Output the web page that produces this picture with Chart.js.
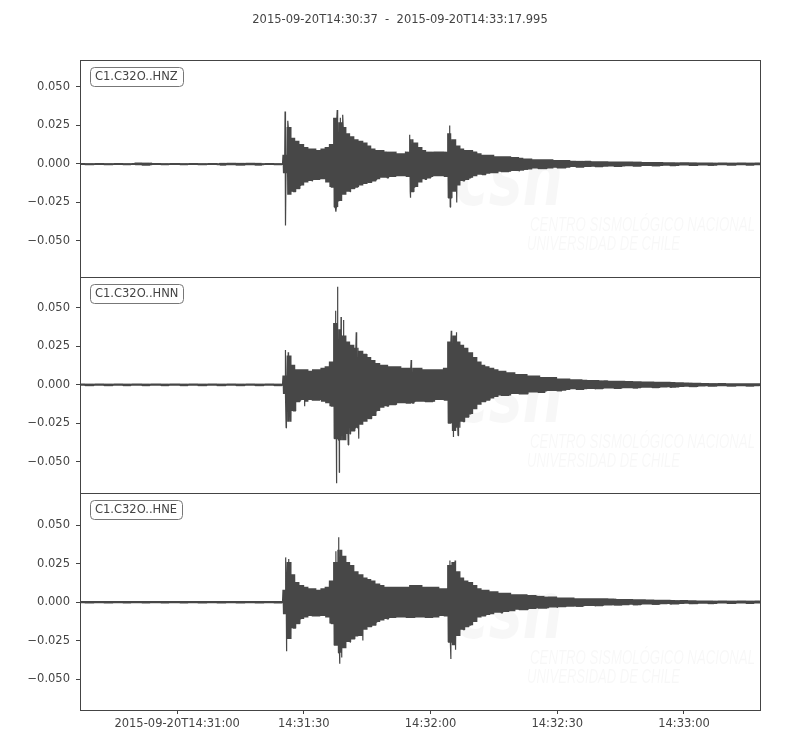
<!DOCTYPE html>
<html><head><meta charset="utf-8">
<script src="https://cdn.jsdelivr.net/npm/chart.js@4.4.1/dist/chart.umd.min.js"></script>
<style>
html,body{margin:0;padding:0;background:#fff;}
#wrap{position:relative;width:800px;height:750px;overflow:hidden;}
canvas{position:absolute;left:0;}
</style></head><body>
<div id="wrap">
<canvas id="c1" width="800" height="287" style="top:0px"></canvas>
<canvas id="c2" width="800" height="236" style="top:267px"></canvas>
<canvas id="c3" width="800" height="267" style="top:483px"></canvas>
</div>
<script>
// ---------- text / axes ----------
const titleText = '2015-09-20T14:30:37  -  2015-09-20T14:33:17.995';
const channelNames = ['C1.C32O..HNZ', 'C1.C32O..HNN', 'C1.C32O..HNE'];
const traceSeconds = 160.995;                 // trace length, seconds from 14:30:37
const xTickSeconds = [23, 53, 83, 113, 143];  // seconds from 14:30:37
const xTickLabels = ['2015-09-20T14:31:00', '14:31:30', '14:32:00', '14:32:30', '14:33:00'];
const yTickValues = [-0.05, -0.025, 0, 0.025, 0.05];
const yTickLabels = ['\u22120.050', '\u22120.025', '0.000', '0.025', '0.050'];
const yLimits = [[-0.0734, 0.0675], [-0.0703, 0.0699], [-0.0701, 0.0708]];

// ---------- amplitude envelopes, one value per 1-s bin (t = 0..160 s) ----------
const hnzUpper = [
 0.0005,0.0005,0.0005,0.0005,0.0005,0.0005,0.0005,0.0005,0.0005,0.0005,
 0.0005,0.0005,0.0005,0.0008,0.0008,0.0008,0.0008,0.0005,0.0005,0.0005,
 0.0005,0.0005,0.0005,0.0005,0.0005,0.0005,0.0005,0.0005,0.0005,0.0005,
 0.0005,0.0005,0.0005,0.0007,0.0007,0.0007,0.0007,0.0007,0.0007,0.0007,
 0.0007,0.0007,0.0007,0.0005,0.0005,0.0005,0.0005,0.0005,0.006,0.024,
 0.017,0.015,0.013,0.011,0.010,0.010,0.009,0.010,0.011,0.013,
 0.030,0.027,0.024,0.020,0.018,0.016,0.015,0.014,0.012,0.010,
 0.009,0.009,0.008,0.008,0.008,0.007,0.007,0.008,0.016,0.014,
 0.011,0.009,0.008,0.008,0.008,0.008,0.008,0.020,0.016,0.012,
 0.010,0.009,0.009,0.008,0.007,0.006,0.006,0.006,0.005,0.005,
 0.005,0.005,0.0045,0.0045,0.004,0.0035,0.0035,0.003,0.003,0.003,
 0.003,0.003,0.0025,0.0025,0.0025,0.0025,0.002,0.002,0.002,0.002,
 0.002,0.0018,0.0018,0.0018,0.0018,0.0016,0.0016,0.0016,0.0016,0.0015,
 0.0015,0.0015,0.0015,0.0012,0.0012,0.0012,0.0012,0.0012,0.0011,0.0011,
 0.0011,0.001,0.001,0.001,0.001,0.001,0.0009,0.0009,0.0009,0.0009,
 0.0008,0.0008,0.0008,0.0008,0.0008,0.0008,0.0008,0.0008,0.0008,0.0008,
 0.0008
];
const hnzLower = [
 -0.0005,-0.0005,-0.0005,-0.0005,-0.0005,-0.0005,-0.0005,-0.0005,-0.0005,-0.0005,
 -0.0005,-0.0005,-0.0005,-0.0008,-0.0008,-0.0008,-0.0008,-0.0005,-0.0005,-0.0005,
 -0.0005,-0.0005,-0.0005,-0.0005,-0.0005,-0.0005,-0.0005,-0.0005,-0.0005,-0.0005,
 -0.0005,-0.0005,-0.0005,-0.0007,-0.0007,-0.0007,-0.0007,-0.0007,-0.0007,-0.0007,
 -0.0007,-0.0007,-0.0007,-0.0005,-0.0005,-0.0005,-0.0005,-0.0005,-0.006,-0.020,
 -0.018,-0.016,-0.014,-0.012,-0.011,-0.010,-0.010,-0.010,-0.012,-0.015,
 -0.028,-0.024,-0.020,-0.018,-0.016,-0.015,-0.014,-0.013,-0.012,-0.011,
 -0.010,-0.009,-0.009,-0.008,-0.008,-0.008,-0.008,-0.008,-0.018,-0.015,
 -0.012,-0.010,-0.009,-0.008,-0.008,-0.008,-0.008,-0.022,-0.018,-0.014,
 -0.011,-0.010,-0.009,-0.008,-0.007,-0.007,-0.006,-0.006,-0.006,-0.005,
 -0.005,-0.005,-0.0045,-0.0045,-0.004,-0.0035,-0.0035,-0.003,-0.003,-0.003,
 -0.003,-0.003,-0.0025,-0.0025,-0.0025,-0.0025,-0.002,-0.002,-0.002,-0.002,
 -0.002,-0.0018,-0.0018,-0.0018,-0.0018,-0.0016,-0.0016,-0.0016,-0.0016,-0.0015,
 -0.0015,-0.0015,-0.0015,-0.0012,-0.0012,-0.0012,-0.0012,-0.0012,-0.0011,-0.0011,
 -0.0011,-0.001,-0.001,-0.001,-0.001,-0.001,-0.0009,-0.0009,-0.0009,-0.0009,
 -0.0008,-0.0008,-0.0008,-0.0008,-0.0008,-0.0008,-0.0008,-0.0008,-0.0008,-0.0008,
 -0.0008
];
const hnzSpikes = [[48.55,0.034],[48.7,-0.040],[49.2,0.028],[60.6,-0.031],[60.9,0.035],
 [61.6,0.030],[62.2,0.032],[78.05,0.019],[78.2,-0.022],[87.5,0.025],[87.65,-0.028],[89.2,-0.025]];

const hnnUpper = [
 0.0006,0.0006,0.0006,0.0006,0.0006,0.0006,0.0006,0.0006,0.0006,0.0006,
 0.0006,0.0006,0.0006,0.0006,0.0006,0.0006,0.0006,0.0006,0.0006,0.0006,
 0.0006,0.0006,0.0006,0.0006,0.0006,0.0006,0.0006,0.0006,0.0006,0.0006,
 0.0006,0.0006,0.0006,0.0006,0.0006,0.0006,0.0006,0.0006,0.0006,0.0006,
 0.0006,0.0006,0.0006,0.0006,0.0006,0.0006,0.0006,0.0006,0.006,0.019,
 0.013,0.010,0.010,0.010,0.009,0.010,0.010,0.011,0.012,0.015,
 0.040,0.036,0.032,0.028,0.026,0.024,0.022,0.020,0.018,0.016,
 0.014,0.013,0.013,0.012,0.012,0.012,0.011,0.011,0.011,0.011,
 0.011,0.010,0.010,0.010,0.010,0.010,0.011,0.028,0.032,0.028,
 0.026,0.024,0.021,0.018,0.015,0.013,0.012,0.011,0.010,0.009,
 0.009,0.008,0.008,0.007,0.007,0.007,0.006,0.006,0.006,0.005,
 0.005,0.005,0.005,0.004,0.004,0.004,0.0035,0.0035,0.0035,0.0032,
 0.003,0.003,0.003,0.0028,0.0028,0.0026,0.0026,0.0025,0.0025,0.0024,
 0.0024,0.0022,0.0022,0.002,0.002,0.002,0.0019,0.0019,0.0018,0.0018,
 0.0017,0.0016,0.0015,0.0014,0.0013,0.0012,0.0012,0.0011,0.0011,0.001,
 0.001,0.001,0.001,0.0009,0.0009,0.0009,0.0009,0.0009,0.0009,0.0009,
 0.0009
];
const hnnLower = [
 -0.0006,-0.0006,-0.0006,-0.0006,-0.0006,-0.0006,-0.0006,-0.0006,-0.0006,-0.0006,
 -0.0006,-0.0006,-0.0006,-0.0006,-0.0006,-0.0006,-0.0006,-0.0006,-0.0006,-0.0006,
 -0.0006,-0.0006,-0.0006,-0.0006,-0.0006,-0.0006,-0.0006,-0.0006,-0.0006,-0.0006,
 -0.0006,-0.0006,-0.0006,-0.0006,-0.0006,-0.0006,-0.0006,-0.0006,-0.0006,-0.0006,
 -0.0006,-0.0006,-0.0006,-0.0006,-0.0006,-0.0006,-0.0006,-0.0006,-0.006,-0.024,
 -0.017,-0.011,-0.010,-0.011,-0.010,-0.010,-0.010,-0.011,-0.012,-0.014,
 -0.035,-0.036,-0.036,-0.032,-0.030,-0.028,-0.026,-0.024,-0.022,-0.020,
 -0.017,-0.015,-0.014,-0.013,-0.013,-0.012,-0.012,-0.012,-0.012,-0.011,
 -0.011,-0.011,-0.011,-0.011,-0.010,-0.010,-0.010,-0.025,-0.030,-0.028,
 -0.024,-0.021,-0.019,-0.016,-0.013,-0.011,-0.010,-0.009,-0.008,-0.007,
 -0.007,-0.007,-0.006,-0.006,-0.006,-0.006,-0.005,-0.005,-0.005,-0.005,
 -0.004,-0.004,-0.004,-0.004,-0.0035,-0.0035,-0.003,-0.003,-0.003,-0.003,
 -0.0028,-0.0028,-0.0026,-0.0026,-0.0025,-0.0025,-0.0024,-0.0024,-0.0023,-0.0023,
 -0.0022,-0.0022,-0.002,-0.002,-0.002,-0.0019,-0.0019,-0.0018,-0.0018,-0.0017,
 -0.0016,-0.0015,-0.0014,-0.0013,-0.0012,-0.0012,-0.0011,-0.0011,-0.001,-0.001,
 -0.0009,-0.0009,-0.0009,-0.0009,-0.0009,-0.0009,-0.0009,-0.0009,-0.0009,-0.0009,
 -0.0009
];
const hnnSpikes = [[48.6,0.0225],[48.8,-0.028],[49.3,0.021],[53.2,-0.014],[60.5,0.048],
 [60.7,-0.064],[60.95,0.0635],[61.4,-0.057],[61.8,0.044],[62.4,0.042],[63.5,-0.039],
 [65.4,0.034],[66.0,-0.035],[78.4,0.016],[87.9,0.035],[88.4,-0.034],[89.1,0.034],[89.5,-0.033]];

const hneUpper = [
 0.0006,0.0006,0.0006,0.0006,0.0006,0.0006,0.0006,0.0006,0.0006,0.0006,
 0.0006,0.0006,0.0006,0.0006,0.0006,0.0006,0.0006,0.0006,0.0006,0.0006,
 0.0006,0.0006,0.0006,0.0006,0.0006,0.0006,0.0006,0.0006,0.0006,0.0006,
 0.0006,0.0006,0.0006,0.0006,0.0006,0.0006,0.0006,0.0006,0.0006,0.0006,
 0.0006,0.0006,0.0006,0.0006,0.0006,0.0006,0.0006,0.0006,0.008,0.026,
 0.018,0.013,0.011,0.010,0.009,0.009,0.008,0.009,0.010,0.014,
 0.026,0.034,0.030,0.026,0.024,0.020,0.018,0.016,0.015,0.014,
 0.012,0.011,0.010,0.010,0.010,0.010,0.010,0.010,0.011,0.011,
 0.011,0.010,0.010,0.010,0.010,0.009,0.009,0.024,0.026,0.020,
 0.016,0.014,0.013,0.011,0.009,0.008,0.008,0.007,0.007,0.006,
 0.006,0.006,0.005,0.005,0.005,0.005,0.0045,0.0045,0.004,0.004,
 0.0035,0.0035,0.0035,0.003,0.003,0.003,0.003,0.0025,0.0025,0.0025,
 0.0025,0.0025,0.0025,0.0025,0.0025,0.0022,0.0022,0.002,0.002,0.002,
 0.002,0.0018,0.0018,0.0017,0.0016,0.0016,0.0015,0.0015,0.0015,0.0014,
 0.0013,0.0012,0.0012,0.0012,0.0011,0.0011,0.001,0.001,0.001,0.001,
 0.0009,0.0009,0.0009,0.0009,0.0009,0.0009,0.0009,0.0009,0.0009,0.0009,
 0.0009
];
const hneLower = [
 -0.0006,-0.0006,-0.0006,-0.0006,-0.0006,-0.0006,-0.0006,-0.0006,-0.0006,-0.0006,
 -0.0006,-0.0006,-0.0006,-0.0006,-0.0006,-0.0006,-0.0006,-0.0006,-0.0006,-0.0006,
 -0.0006,-0.0006,-0.0006,-0.0006,-0.0006,-0.0006,-0.0006,-0.0006,-0.0006,-0.0006,
 -0.0006,-0.0006,-0.0006,-0.0006,-0.0006,-0.0006,-0.0006,-0.0006,-0.0006,-0.0006,
 -0.0006,-0.0006,-0.0006,-0.0006,-0.0006,-0.0006,-0.0006,-0.0006,-0.008,-0.024,
 -0.017,-0.014,-0.011,-0.010,-0.009,-0.009,-0.009,-0.009,-0.010,-0.014,
 -0.028,-0.033,-0.030,-0.026,-0.024,-0.022,-0.022,-0.018,-0.016,-0.015,
 -0.013,-0.012,-0.011,-0.010,-0.010,-0.010,-0.010,-0.010,-0.010,-0.010,
 -0.010,-0.010,-0.010,-0.010,-0.010,-0.009,-0.009,-0.026,-0.028,-0.022,
 -0.018,-0.016,-0.015,-0.013,-0.010,-0.009,-0.008,-0.008,-0.007,-0.007,
 -0.006,-0.006,-0.006,-0.005,-0.005,-0.005,-0.0045,-0.0045,-0.004,-0.004,
 -0.004,-0.0035,-0.0035,-0.003,-0.003,-0.003,-0.003,-0.0028,-0.0028,-0.0025,
 -0.0025,-0.0025,-0.0024,-0.0024,-0.0022,-0.0022,-0.002,-0.002,-0.002,-0.002,
 -0.0018,-0.0018,-0.0017,-0.0016,-0.0016,-0.0015,-0.0015,-0.0014,-0.0014,-0.0013,
 -0.0012,-0.0012,-0.0012,-0.0011,-0.0011,-0.001,-0.001,-0.001,-0.001,-0.001,
 -0.0009,-0.0009,-0.0009,-0.0009,-0.0009,-0.0009,-0.0009,-0.0009,-0.0009,-0.0009,
 -0.0009
];
const hneSpikes = [[48.7,0.029],[48.9,-0.032],[49.4,0.028],[60.6,0.033],[61.2,0.042],
 [61.5,-0.040],[62.0,-0.036],[67.0,-0.025],[87.6,0.027],[87.8,-0.037],[88.8,0.027],[89.0,-0.031]];

// ---------- build the oscillating trace from the envelopes ----------
const binPhases = [0.0625, 0.1875, 0.3125, 0.4375, 0.5625, 0.6875, 0.8125, 0.9375];
function buildTrace(upper, lower, spikes) {
  const pts = [];
  for (let i = 0; i < upper.length; i++) {
    binPhases.forEach((p, k) => pts.push({x: i + p, y: k % 2 === 0 ? upper[i] : lower[i]}));
  }
  spikes.forEach(s => pts.push({x: s[0], y: s[1]}));
  pts.sort((a, b) => a.x - b.x);
  return pts;
}
const traces = [
  buildTrace(hnzUpper, hnzLower, hnzSpikes),
  buildTrace(hnnUpper, hnnLower, hnnSpikes),
  buildTrace(hneUpper, hneLower, hneSpikes)
];

const FONT = 'DejaVu Sans';
const FSIZE = 11.5;
const INK = '#444';

function fitText(ctx, txt, x, y, w, font) {
  ctx.font = font;
  const m = ctx.measureText(txt).width;
  ctx.save();
  ctx.translate(x, y);
  ctx.scale(w / m, 1);
  ctx.fillText(txt, 0, 0);
  ctx.restore();
}

function panelPlugin(idx) {
  return {
    id: 'panel' + idx,
    beforeDatasetsDraw(chart) {
      const {ctx, chartArea: a} = chart;
      ctx.save();
      ctx.beginPath(); ctx.rect(a.left, a.top, a.right - a.left, a.bottom - a.top); ctx.clip();
      ctx.fillStyle = 'rgba(0,0,0,0.03)';
      ctx.textBaseline = 'alphabetic'; ctx.textAlign = 'left';
      fitText(ctx, 'csn', a.left + 375, a.top + 145, 108, 'italic bold 80px "DejaVu Sans"');
      fitText(ctx, 'CENTRO SISMOLÓGICO NACIONAL', a.left + 450, a.top + 171, 225, 'italic 20px "Liberation Sans"');
      fitText(ctx, 'UNIVERSIDAD DE CHILE', a.left + 447, a.top + 190, 153, 'italic 20px "Liberation Sans"');
      ctx.restore();
    },
    afterDraw(chart) {
      const {ctx, chartArea: a} = chart;
      ctx.save();
      // frame
      ctx.strokeStyle = INK; ctx.lineWidth = 1;
      ctx.strokeRect(Math.round(a.left) + 0.5, Math.round(a.top) + 0.5,
                     Math.round(a.right - a.left), Math.round(a.bottom - a.top));
      // channel label box
      ctx.font = FSIZE + 'px "' + FONT + '"';
      const tw = ctx.measureText(channelNames[idx]).width;
      const bx = Math.round(a.left) + 10.5, by = Math.round(a.top) + 7.5, bw = Math.round(tw + 10), bh = 19, r = 4;
      ctx.beginPath();
      ctx.moveTo(bx + r, by); ctx.lineTo(bx + bw - r, by); ctx.arcTo(bx + bw, by, bx + bw, by + r, r);
      ctx.lineTo(bx + bw, by + bh - r); ctx.arcTo(bx + bw, by + bh, bx + bw - r, by + bh, r);
      ctx.lineTo(bx + r, by + bh); ctx.arcTo(bx, by + bh, bx, by + bh - r, r);
      ctx.lineTo(bx, by + r); ctx.arcTo(bx, by, bx + r, by, r); ctx.closePath();
      ctx.fillStyle = '#fff'; ctx.fill();
      ctx.strokeStyle = '#777'; ctx.stroke();
      ctx.fillStyle = INK; ctx.textBaseline = 'middle'; ctx.textAlign = 'left';
      ctx.fillText(channelNames[idx], bx + 4.5, by + bh / 2 + 0.5);
      if (idx === 0) {
        ctx.textAlign = 'center';
        ctx.fillText(titleText, 400, 20.5);
      }
      ctx.restore();
    }
  };
}

function makeChart(canvasId, idx, padding, showX) {
  const ctx = document.getElementById(canvasId);
  return new Chart(ctx, {
    type: 'line',
    data: {
      datasets: [{
        data: traces[idx],
        borderColor: '#474747',
        borderWidth: 1.2,
        borderJoinStyle: 'bevel',
        pointRadius: 0,
        tension: 0,
        fill: false
      }]
    },
    options: {
      responsive: false,
      animation: false,
      parsing: false,
      normalized: true,
      layout: {padding: padding},
      plugins: {legend: {display: false}, tooltip: {enabled: false}, title: {display: false}},
      events: [],
      scales: {
        x: {
          type: 'linear',
          display: showX,
          min: 0, max: traceSeconds,
          afterBuildTicks: s => { s.ticks = xTickSeconds.map(v => ({value: v})); },
          afterFit: s => { if (showX) { s.height = 40; } s.paddingLeft = 0; s.paddingRight = 0; },
          ticks: {
            callback: (v, i) => xTickLabels[i],
            font: {family: FONT, size: FSIZE}, color: INK, padding: 3,
            autoSkip: false, maxRotation: 0, minRotation: 0
          },
          grid: {display: true, drawOnChartArea: false, drawTicks: true, tickLength: 4, tickColor: INK, color: INK},
          border: {display: false}
        },
        y: {
          type: 'linear',
          min: yLimits[idx][0], max: yLimits[idx][1],
          afterBuildTicks: s => { s.ticks = yTickValues.map(v => ({value: v})); },
          afterFit: s => { s.width = 80; s.paddingTop = 0; s.paddingBottom = 0; },
          ticks: {
            callback: (v, i) => yTickLabels[i],
            font: {family: FONT, size: FSIZE}, color: INK, padding: 6, autoSkip: false
          },
          grid: {display: true, drawOnChartArea: false, drawTicks: true, tickLength: 4, tickColor: INK, color: INK},
          border: {display: false}
        }
      }
    },
    plugins: [panelPlugin(idx)]
  });
}

makeChart('c1', 0, {left: 0, right: 40, top: 60, bottom: 10}, false);
makeChart('c2', 1, {left: 0, right: 40, top: 10, bottom: 10}, false);
makeChart('c3', 2, {left: 0, right: 40, top: 10, bottom: 0}, true);
</script>
</body></html>
